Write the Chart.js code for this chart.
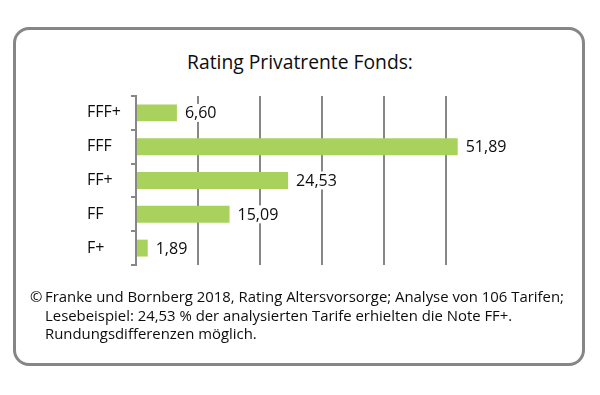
<!DOCTYPE html>
<html>
<head>
<meta charset="utf-8">
<script src="https://cdn.jsdelivr.net/npm/chart.js@4/dist/chart.umd.min.js"></script>
<style>
  html, body { margin:0; padding:0; background:#fff; }
  body { width:600px; height:395px; position:relative; overflow:hidden; font-family:"Open Sans", sans-serif; color:#0d0d0d; }
  #box { position:absolute; left:13px; top:27px; width:566px; height:333px; border:3px solid #868686; border-radius:16px; box-sizing:content-box; }
  #title { position:absolute; left:0; top:49px; width:600px; text-align:center; font-size:19.3px; line-height:26px; }
  #c { position:absolute; left:0; top:0; }
  #note { position:absolute; left:30px; top:287px; font-size:14.9px; line-height:18.7px; white-space:nowrap; }
  #note .ind { padding-left:15px; }
  #note .cp { display:inline-block; width:15px; }
</style>
</head>
<body>
<div id="box"></div>
<div id="title">Rating Privatrente Fonds:</div>
<canvas id="c" width="600" height="395"></canvas>
<div id="note">
  <div><span class="cp">©</span>Franke und Bornberg 2018, Rating Altersvorsorge; Analyse von 106 Tarifen;</div>
  <div class="ind">Lesebeispiel: 24,53 % der analysierten Tarife erhielten die Note FF+.</div>
  <div class="ind">Rundungsdifferenzen möglich.</div>
</div>
<script>
const categories = ["FFF+", "FFF", "FF+", "FF", "F+"];
const shares = [6.60, 51.89, 24.53, 15.09, 1.89];
const gridTicks = [10, 20, 30, 40, 50];

const fmt = v => v.toFixed(2).replace('.', ',');

const valueLabels = {
  id: 'valueLabels',
  afterDatasetsDraw(chart) {
    const ctx = chart.ctx;
    const meta = chart.getDatasetMeta(0);
    ctx.save();
    ctx.font = '16px "Open Sans"';
    ctx.textBaseline = 'middle';
    ctx.textAlign = 'left';
    meta.data.forEach((bar, i) => {
      const txt = fmt(shares[i]);
      const w = ctx.measureText(txt).width;
      const x = bar.x + 8, y = bar.y;
      ctx.fillStyle = '#fff';
      ctx.fillRect(x - 3, y - 9, w + 6, 18);
      ctx.fillStyle = '#0d0d0d';
      ctx.fillText(txt, x, y + 1);
    });
    ctx.restore();
  }
};

function draw() {
  new Chart(document.getElementById('c'), {
    type: 'bar',
    data: {
      labels: categories,
      datasets: [{
        data: shares,
        backgroundColor: '#a9d25c',
        borderWidth: 0,
        categoryPercentage: 1,
        barPercentage: 0.5
      }]
    },
    options: {
      indexAxis: 'y',
      responsive: false,
      animation: false,
      events: [],
      layout: { padding: { left: 87, right: 92, top: 96, bottom: 130 } },
      plugins: { legend: { display: false }, tooltip: { enabled: false }, title: { display: false } },
      scales: {
        x: {
          min: 0, max: 60,
          ticks: { display: false, stepSize: 10 },
          border: { display: false },
          grid: {
            drawTicks: false,
            lineWidth: 2,
            color: c => (c.tick && gridTicks.includes(c.tick.value)) ? '#878787' : 'rgba(0,0,0,0)'
          },
          afterFit: s => { s.height = 0; }
        },
        y: {
          ticks: { crossAlign: 'far', color: '#0d0d0d', font: { family: 'Open Sans', size: 16 } },
          border: { display: true, color: '#878787', width: 2 },
          grid: { offset: true, drawOnChartArea: false, drawTicks: true, tickLength: 5, color: '#878787', lineWidth: 2 },
          afterFit: s => { s.width = 49; }
        }
      }
    },
    plugins: [valueLabels]
  });
}

if (document.fonts && document.fonts.load) {
  document.fonts.load('16px "Open Sans"').then(draw, draw);
} else { draw(); }
</script>
</body>
</html>
